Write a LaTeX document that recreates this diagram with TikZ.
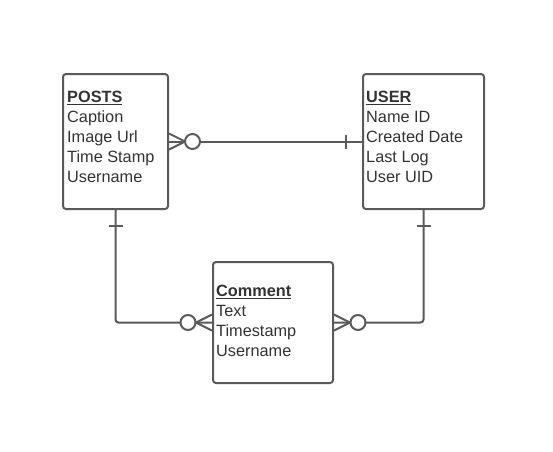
\documentclass[tikz,border=0pt]{standalone}
\usepackage{fontspec}
\setmainfont{Liberation Sans}
\definecolor{lc}{HTML}{5A5A5A}
\definecolor{tc}{HTML}{333333}
\begin{document}
\begin{tikzpicture}[x=1pt,y=-1pt,
  ent/.style={draw=lc, line width=2pt, rounded corners=3pt, fill=white, inner sep=0pt, anchor=north west},
  conn/.style={draw=lc, line width=2pt, rounded corners=3pt},
  sym/.style={draw=lc, line width=2pt},
  ring/.style={draw=lc, line width=2pt, fill=white},
  txt/.style={text=tc, inner sep=0pt, anchor=north west, align=left, font=\fontsize{16.3}{20}\selectfont}]
\useasboundingbox[fill=white] (0,0) rectangle (553,451);
% entity boxes
\node[ent, minimum width=105pt, minimum height=135pt] (posts) at (62,73) {};
\node[ent, minimum width=121pt, minimum height=135pt] (users) at (362,73) {};
\node[ent, minimum width=120pt, minimum height=121pt] (comment) at (212,261) {};
% texts
\node[txt] (poststxt) at (67,91) {\textbf{\underline{POSTS}}\\Caption\\Image Url\\Time Stamp\\Username};
\node[txt] (userstxt) at (366,91) {\textbf{\underline{USER}}\\Name ID\\Created Date\\Last Log\\User UID};
\node[txt] (commenttxt) at (216,285) {\textbf{\underline{Comment}}\\Text\\Timestamp\\Username};
% connectors
\draw[conn] (posts.east) -- (users.west);
\draw[conn] (posts.south) |- (comment.west);
\draw[conn] (users.south) |- (comment.east);
% posts-users: many (zero) at posts, one at users
\draw[sym] ([yshift=8pt]posts.east) -- ([xshift=16pt]posts.east) -- ([yshift=-8pt]posts.east);
\draw[ring] ([xshift=23.5pt]posts.east) circle[radius=7.5pt];
\draw[sym] ([xshift=-16pt,yshift=7pt]users.west) -- ([xshift=-16pt,yshift=-7pt]users.west);
% posts-comment
\draw[sym] ([xshift=-7pt,yshift=-16pt]posts.south) -- ([xshift=7pt,yshift=-16pt]posts.south);
\draw[sym] ([yshift=8pt]comment.west) -- ([xshift=-16pt]comment.west) -- ([yshift=-8pt]comment.west);
\draw[ring] ([xshift=-24pt]comment.west) circle[radius=7.5pt];
% users-comment
\draw[sym] ([xshift=-7pt,yshift=-16pt]users.south) -- ([xshift=7pt,yshift=-16pt]users.south);
\draw[sym] ([yshift=8pt]comment.east) -- ([xshift=16pt]comment.east) -- ([yshift=-8pt]comment.east);
\draw[ring] ([xshift=24pt]comment.east) circle[radius=7.5pt];
\end{tikzpicture}
\end{document}
